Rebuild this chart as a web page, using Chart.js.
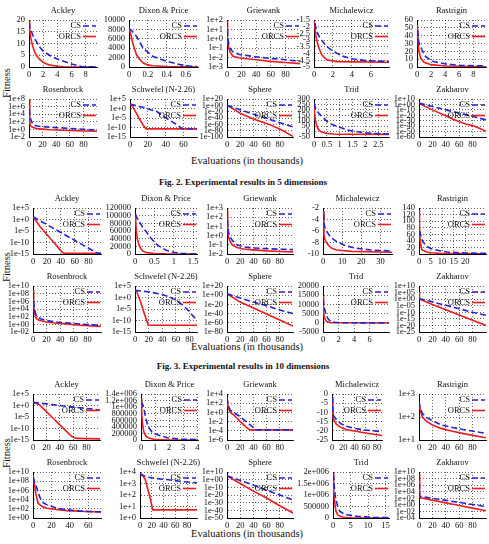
<!DOCTYPE html>
<html>
<head>
<meta charset="utf-8">
<script src="https://cdn.jsdelivr.net/npm/chart.js@4/dist/chart.umd.min.js"></script>
<style>
  html, body { margin: 0; padding: 0; background: #fff; }
  #page { position: relative; width: 489px; height: 544px; overflow: hidden; background: #fff; font-family: "Liberation Serif", serif; }
  #page canvas { position: absolute; }
  .lbl { position: absolute; white-space: nowrap; color: #111; font-family: "Liberation Serif", serif; }
  .cap { font-weight: bold; font-size: 9px; transform: translateX(-50%); }
  .eval { font-size: 10.5px; transform: translateX(-50%); }
  .fit { font-size: 10.5px; transform: translate(-50%, -50%) rotate(-90deg); }
</style>
</head>
<body>
<div id="page">
  <div class="lbl fit" style="left:6px; top:83px;">Fitness</div>
  <div class="lbl fit" style="left:6px; top:267px;">Fitness</div>
  <div class="lbl fit" style="left:6px; top:453px;">Fitness</div>
  <div class="lbl eval" style="left:247px; top:155px;">Evaluations (in thousands)</div>
  <div class="lbl eval" style="left:247px; top:341px;">Evaluations (in thousands)</div>
  <div class="lbl eval" style="left:247px; top:528px;">Evaluations (in thousands)</div>
  <div class="lbl cap" style="left:243px; top:177px;">Fig. 2. Experimental results in 5 dimensions</div>
  <div class="lbl cap" style="left:243px; top:361px;">Fig. 3. Experimental results in 10 dimensions</div>
</div>
<script>
// ================= DATA =================
const seriesNames = ["CS", "ORCS"];

// ---------- 5 dimensions ----------
const ackley5X = [0, 2, 4, 6, 8];
const ackley5Y = ["0", "5", "10", "15", "20"];
const ackley5CS = [[0,19],[0.1,17],[0.3,15.5],[0.6,13],[1,11],[1.5,8.5],[2,6.8],[3,4.8],[4,3.4],[5,2.3],[6,1.3],[7,0.5],[7.4,0.2],[8,0.08],[9.5,0.03]];
const ackley5ORCS = [[0,19.5],[0.1,16],[0.25,12.5],[0.5,9],[0.75,6.8],[1,5.2],[1.5,3.2],[2,2],[2.5,1.3],[3,0.8],[4,0.3],[5,0.1],[6,0.03],[9.5,0]];

const dixon5X = [0, 0.2, 0.4, 0.6];
const dixon5Y = ["0", "2000", "4000", "6000", "8000", "10000"];
const dixon5CS = [[0,8200],[0.03,7700],[0.08,6500],[0.15,4000],[0.25,2300],[0.4,1200],[0.54,500],[0.64,200],[0.72,70]];
const dixon5ORCS = [[0,8300],[0.02,6800],[0.04,5100],[0.06,3700],[0.08,2600],[0.11,1700],[0.15,850],[0.2,450],[0.25,280],[0.4,70],[0.73,0]];

const griewank5X = [0, 20, 40, 60, 80];
const griewank5Y = ["1e-3", "1e-2", "1e-1", "1e+0", "1e+1", "1e+2"];
const griewank5CS = [[0,80],[0.5,10],[1,2],[2,0.4],[4,0.1],[8,0.04],[17,0.021],[40,0.012],[60,0.008],[80,0.006],[100,0.004]];
const griewank5ORCS = [[0,80],[0.5,5],[1,0.8],[2,0.15],[4,0.04],[8,0.015],[17,0.009],[40,0.006],[60,0.004],[80,0.003],[100,0.0023]];

const mich5X = [0, 2, 4, 6];
const mich5Y = ["-5", "-4.5", "-4", "-3.5", "-3", "-2.5", "-2", "-1.5"];
const mich5CS = [[0.1,-1.75],[0.28,-2.36],[0.63,-2.85],[1.33,-3.47],[2.03,-3.84],[3.09,-4.21],[4.14,-4.41],[5.5,-4.53],[7.9,-4.6]];
const mich5ORCS = [[0.03,-1.55],[0.2,-2.73],[0.46,-3.47],[0.8,-4.08],[1.33,-4.46],[2.4,-4.6],[7.9,-4.65]];

const rast5X = [0, 2, 4, 6, 8];
const rast5Y = ["0", "10", "20", "30", "40", "50", "60"];
const rast5CS = [[0.1,47],[0.24,32],[0.7,22],[1.2,13.5],[2.2,7.2],[4.1,3.8],[6.1,2.1],[9.8,1.3]];
const rast5ORCS = [[0.05,53.5],[0.24,22],[0.5,11.4],[1,5.9],[2,3],[4,1.3],[9.8,0.4]];

const rosen5X = [0, 20, 40, 60, 80];
const rosen5Y = ["1e-2", "1e+0", "1e+2", "1e+4", "1e+6", "1e+8"];
const rosen5CS = [[0,6e7],[1,1e4],[2,800],[3,300],[5,40],[8,12],[12,8],[20,5],[40,3],[60,1.8],[80,1.1],[100,0.6]];
const rosen5ORCS = [[0,1e8],[1,100],[2,10],[4,5],[11,1.6],[20,1.2],[31,0.8],[50,0.6],[70,0.45],[100,0.32]];

const schwefel5X = [0, 20, 40, 60];
const schwefel5Y = ["1e-15", "1e-10", "1e-5", "1e+0", "1e+5"];
const schwefel5CS = [[0,200],[15,3],[30,0.025],[41,6e-6],[52,4e-9],[59,1.5e-11],[75,1.5e-11]];
const schwefel5ORCS = [[0,200],[3,10],[6,0.03],[10,1e-5],[15,1e-9],[18,2e-11],[75,2e-11]];

const sphere5X = [0, 20, 40, 60, 80];
const sphere5Y = ["1e-100", "1e-80", "1e-60", "1e-40", "1e-20", "1e+00", "1e+20"];
const sphere5CS = [[0,1],[20,1e-14],[40,1e-28],[60,1e-41],[80,1e-55],[100,1e-68]];
const sphere5ORCS = [[0,1],[10,1e-12],[20,1e-25],[40,1e-43],[60,1e-57],[80,1e-75],[100,1e-98]];

const trid5X = [0, 0.5, 1, 1.5, 2, 2.5];
const trid5Y = ["-50", "0", "50", "100", "150", "200", "250", "300"];
const trid5CS = [[0,260],[0.05,220],[0.1,195],[0.2,165],[0.3,140],[0.5,95],[0.7,65],[1,40],[1.3,15],[1.5,5],[2,-12],[2.5,-20],[2.92,-22]];
const trid5ORCS = [[0,260],[0.02,180],[0.05,110],[0.1,60],[0.15,30],[0.2,12],[0.3,-5],[0.5,-18],[0.75,-23],[1,-25],[2.92,-26]];

const zakh5X = [0, 20, 40, 60, 80];
const zakh5Y = ["1e-60", "1e-50", "1e-40", "1e-30", "1e-20", "1e-10", "1e+00", "1e+10"];
const zakh5CS = [[0,300],[20,1e-4],[40,1e-10],[60,1e-16],[80,1e-22],[100,3e-29]];
const zakh5ORCS = [[0,300],[10,1e-4],[20,1e-10],[40,1e-21],[50,1e-27],[60,1e-32],[70,1e-36],[80,1e-39],[90,1e-44],[100,3e-50]];

// ---------- 10 dimensions ----------
const ackley10X = [0, 20, 40, 60, 80];
const ackley10Y = ["1e-15", "1e-10", "1e-5", "1e+0", "1e+5"];
const ackley10CS = [[0,15],[20,6e-3],[40,2.3e-6],[60,9e-10],[80,3e-13],[93,2e-15],[98,2e-15]];
const ackley10ORCS = [[0,15],[3,1],[10,1e-3],[20,3e-7],[30,1e-10],[40,3e-14],[44,2e-15],[98,2e-15]];

const dixon10X = [0, 0.5, 1, 1.5];
const dixon10Y = ["0", "20000", "40000", "60000", "80000", "100000", "120000"];
const dixon10CS = [[0,103000],[0.05,95000],[0.1,85000],[0.2,70000],[0.3,57000],[0.4,43000],[0.5,31000],[0.6,22000],[0.8,10000],[1,4500],[1.2,2000],[1.4,800],[1.6,300]];
const dixon10ORCS = [[0,105000],[0.02,80000],[0.04,55000],[0.06,40000],[0.1,25000],[0.15,14000],[0.2,8000],[0.3,3500],[0.5,1000],[0.8,200],[1.6,0]];

const griewank10X = [0, 20, 40, 60, 80];
const griewank10Y = ["1e-2", "1e-1", "1e+0", "1e+1", "1e+2", "1e+3"];
const griewank10CS = [[0,500],[1,20],[2,3],[4,0.9],[8,0.3],[15,0.1],[25,0.06],[40,0.045],[60,0.038],[80,0.033],[100,0.03]];
const griewank10ORCS = [[0,500],[1,8],[2,1],[4,0.3],[8,0.1],[15,0.05],[25,0.035],[40,0.028],[60,0.022],[80,0.019],[100,0.017]];

const mich10X = [0, 10, 20, 30];
const mich10Y = ["-10", "-8", "-6", "-4", "-2"];
const mich10CS = [[0.3,-3],[0.5,-4.7],[1,-5.4],[2,-6.1],[4,-7.1],[7,-7.8],[12,-8.6],[17.5,-9.0],[25,-9.3],[36,-9.5]];
const mich10ORCS = [[0.2,-2.5],[0.5,-6.7],[1,-7.5],[2.6,-8.4],[4,-8.9],[7,-9.3],[15,-9.55],[36,-9.7]];

const rast10X = [0, 5, 10, 15, 20];
const rast10Y = ["0", "20", "40", "60", "80", "100", "120", "140"];
const rast10CS = [[0,70],[0.4,68],[1,50],[1.6,38],[3.3,23],[5,17],[7,13],[12,6],[20,3],[29,2]];
const rast10ORCS = [[0,133],[0.2,90],[0.5,38],[1.2,13],[3.3,6],[5,4],[9,2],[15,1.2],[29,0.5]];

const rosen10X = [0, 20, 40, 60, 80];
const rosen10Y = ["1e-02", "1e+00", "1e+02", "1e+04", "1e+06", "1e+08", "1e+10"];
const rosen10CS = [[0,2.5e8],[1,1e6],[2,1.2e4],[4,500],[7,80],[12,25],[20,10],[35,4],[48,2.5],[70,1.2],[100,0.5]];
const rosen10ORCS = [[0,8e8],[1,1e5],[2,1.6e3],[5,30],[10,10],[20,4],[35,2],[48,1.3],[70,0.6],[100,0.3]];

const schwefel10X = [0, 20, 40, 60, 80];
const schwefel10Y = ["1e-15", "1e-10", "1e-5", "1e+0", "1e+5"];
const schwefel10CS = [[0,1200],[22,250],[41,16],[50,2],[61,0.06],[70,5e-4],[76,1.2e-5],[85,1e-8],[91,1.2e-10]];
const schwefel10ORCS = [[0,1200],[2.4,500],[8,2e-2],[14,5e-8],[19.5,8e-13],[91,8e-13]];

const sphere10X = [0, 20, 40, 60, 80];
const sphere10Y = ["1e-80", "1e-60", "1e-40", "1e-20", "1e+00", "1e+20"];
const sphere10CS = [[0,2000],[20,1e-6],[40,1e-15],[60,1e-23],[80,1e-32],[100,1e-40]];
const sphere10ORCS = [[0,2000],[20,1e-15],[40,1e-28],[60,1e-41],[80,1e-54],[100,1e-67]];

const trid10X = [0, 2, 4, 6];
const trid10Y = ["-5000", "0", "5000", "10000", "15000", "20000"];
const trid10CS = [[0,13000],[0.1,10000],[0.2,7500],[0.4,4500],[0.6,2500],[0.8,1500],[1,900],[1.5,300],[2,100],[3,0],[8.5,-100]];
const trid10ORCS = [[0,14500],[0.05,8000],[0.1,5000],[0.2,2500],[0.4,1000],[0.6,400],[1,100],[2,0],[8.5,-100]];

const zakh10X = [0, 20, 40, 60, 80];
const zakh10Y = ["1e-25", "1e-20", "1e-15", "1e-10", "1e-05", "1e+00", "1e+05", "1e+10"];
const zakh10CS = [[0,3],[20,8e-3],[40,2e-5],[60,5e-8],[80,1e-10],[100,6e-13]];
const zakh10ORCS = [[0,3e5],[0.5,100],[1,1],[20,1e-4],[40,1e-8],[60,1e-12],[80,1e-16],[100,1e-20]];

// ---------- third figure (higher dimension) ----------
const ackleyHX = [0, 20, 40, 60, 80];
const ackleyHY = ["1e-15", "1e-10", "1e-5", "1e+0", "1e+5"];
const ackleyHCS = [[0,25],[20,5],[40,1],[60,0.2],[80,0.05],[100,0.011]];
const ackleyHORCS = [[0,20],[9,3],[20,2.3e-3],[30,3e-6],[40,4e-9],[50,6e-12],[58,3e-14],[65,5e-15],[100,3e-15]];

const dixonHX = [0, 1, 2, 3, 4];
const dixonHY = ["0", "200000", "400000", "600000", "800000", "1e+006", "1.2e+006", "1.4e+006"];
const dixonHCS = [[0,1170000],[0.1,1100000],[0.17,1020000],[0.3,750000],[0.4,560000],[0.55,380000],[0.77,250000],[1,190000],[1.4,130000],[1.85,70000],[2.5,40000],[3,25000],[4,10000]];
const dixonHORCS = [[0,1270000],[0.05,800000],[0.12,450000],[0.2,250000],[0.3,150000],[0.4,100000],[0.6,50000],[1.1,10000],[2,2000],[4,0]];

const griewankHX = [0, 20, 40, 60, 80];
const griewankHY = ["1e-6", "1e-4", "1e-2", "1e+0", "1e+2", "1e+4"];
const griewankHCS = [[0,1500],[2,30],[5,3],[10,1],[20,0.12],[30,8e-3],[40,5e-4],[45,1.6e-4],[100,1.6e-4]];
const griewankHORCS = [[0,1500],[2,10],[5,1],[10,0.3],[20,0.01],[30,5e-4],[35,1.6e-4],[100,1.6e-4]];

const michHX = [0, 20, 40, 60, 80];
const michHY = ["-25", "-20", "-15", "-10", "-5", "0"];
const michHCS = [[1,-1.5],[2,-11.4],[8,-14],[15,-16],[25,-17.5],[40,-18.7],[60,-19.6],[89,-20.5]];
const michHORCS = [[1,-1.5],[2,-13.2],[8,-16.5],[15,-18],[25,-19.3],[40,-20.1],[60,-21.2],[89,-22.6]];

const rastHX = [0, 20, 40, 60, 80];
const rastHY = ["1e+1", "1e+2", "1e+3"];
const rastHCS = [[0,470],[2,250],[5,145],[10,100],[20,70],[33,45],[50,35],[70,27],[100,19.5]];
const rastHORCS = [[0,400],[2,200],[5,100],[10,70],[20,45],[33,32],[50,24],[70,18],[100,12.6]];

const rosenHX = [0, 20, 40, 60];
const rosenHY = ["1e+00", "1e+02", "1e+04", "1e+06", "1e+08", "1e+10"];
const rosenHCS = [[0,8e8],[3.7,6e6],[7.3,4e4],[10,3000],[14.7,800],[25,150],[37,60],[50,35],[60,25],[74,22]];
const rosenHORCS = [[0,2e9],[3,2.5e5],[5.5,1600],[10,300],[15,130],[25,70],[37,40],[50,30],[74,20]];

const schwefelHX = [0, 20, 40, 60, 80];
const schwefelHY = ["1e+0", "1e+1", "1e+2", "1e+3", "1e+4"];
const schwefelHCS = [[0,7200],[11,3700],[25,2800],[46,2200],[70,1500],[97,1150]];
const schwefelHORCS = [[0,7200],[5,4500],[8.6,2500],[14,250],[18,37],[21.7,5.1],[97,5.1]];

const sphereHX = [0, 20, 40, 60, 80];
const sphereHY = ["1e-50", "1e-40", "1e-30", "1e-20", "1e-10", "1e+00", "1e+10"];
const sphereHCS = [[0,1e5],[20,1e-1],[40,1e-7],[60,1e-14],[80,1e-20],[100,3e-27]];
const sphereHORCS = [[0,1e5],[20,1e-5],[40,1e-15],[60,1e-24],[80,1e-34],[100,3e-44]];

const tridHX = [0, 5, 10, 15];
const tridHY = ["0", "500000", "1e+006", "1.5e+006", "2e+006"];
const tridHCS = [[0,1900000],[0.2,1790000],[0.4,1300000],[0.66,930000],[1.1,640000],[1.5,420000],[2,290000],[3,190000],[4,140000],[6.8,71000],[11.5,29000],[16,14000]];
const tridHORCS = [[0,1930000],[0.2,1100000],[0.4,790000],[0.85,290000],[1.3,150000],[2,71000],[3,35000],[5,14000],[16,2000]];

const zakhHX = [0, 20, 40, 60, 80];
const zakhHY = ["1e-04", "1e-02", "1e+00", "1e+02", "1e+04", "1e+06", "1e+08", "1e+10"];
const zakhHCS = [[0,2e9],[1,400],[20,95],[40,23],[60,5.5],[80,1.3],[100,0.32]];
const zakhHORCS = [[0,3e9],[1,160],[20,25],[40,4],[60,0.63],[80,0.1],[100,0.016]];

// ================= PANEL TABLE (layout + axis ranges) =================
// plot = [left, top, right, bottom] of the plotting area in page pixels
const panels = [
  // Fig 2 row 1
  {title:"Ackley", plot:[29,20,97,67], xmax:9.6, log:false, x:ackley5X, y:ackley5Y, cs:ackley5CS, orcs:ackley5ORCS},
  {title:"Dixon & Price", plot:[129,20,198,67], xmax:0.73, log:false, x:dixon5X, y:dixon5Y, cs:dixon5CS, orcs:dixon5ORCS},
  {title:"Griewank", plot:[227,20,300,67], xmax:100, log:true, x:griewank5X, y:griewank5Y, cs:griewank5CS, orcs:griewank5ORCS},
  {title:"Michalewicz", plot:[314,20,389,67], xmax:7.9, log:false, x:mich5X, y:mich5Y, cs:mich5CS, orcs:mich5ORCS},
  {title:"Rastrigin", plot:[417,20,486,67], xmax:9.8, log:false, x:rast5X, y:rast5Y, cs:rast5CS, orcs:rast5ORCS},
  // Fig 2 row 2
  {title:"Rosenbrock", plot:[29,99,97,137], xmax:100, log:true, x:rosen5X, y:rosen5Y, cs:rosen5CS, orcs:rosen5ORCS},
  {title:"Schwefel (N-2.26)", plot:[130,99,197,137], xmax:75, log:true, x:schwefel5X, y:schwefel5Y, cs:schwefel5CS, orcs:schwefel5ORCS},
  {title:"Sphere", plot:[227,99,293,137], xmax:100, log:true, x:sphere5X, y:sphere5Y, cs:sphere5CS, orcs:sphere5ORCS},
  {title:"Trid", plot:[314,99,389,137], xmax:2.92, log:false, x:trid5X, y:trid5Y, cs:trid5CS, orcs:trid5ORCS},
  {title:"Zakharov", plot:[419,99,486,137], xmax:100, log:true, x:zakh5X, y:zakh5Y, cs:zakh5CS, orcs:zakh5ORCS},
  // Fig 3 row 1
  {title:"Ackley", plot:[33,208,101,254], xmax:98, log:true, x:ackley10X, y:ackley10Y, cs:ackley10CS, orcs:ackley10ORCS},
  {title:"Dixon & Price", plot:[135,208,197,254], xmax:1.6, log:false, x:dixon10X, y:dixon10Y, cs:dixon10CS, orcs:dixon10ORCS},
  {title:"Griewank", plot:[227,208,293,254], xmax:100, log:true, x:griewank10X, y:griewank10Y, cs:griewank10CS, orcs:griewank10ORCS},
  {title:"Michalewicz", plot:[323,208,392,254], xmax:36, log:false, x:mich10X, y:mich10Y, cs:mich10CS, orcs:mich10ORCS},
  {title:"Rastrigin", plot:[419,208,486,254], xmax:29, log:false, x:rast10X, y:rast10Y, cs:rast10CS, orcs:rast10ORCS},
  // Fig 3 row 2
  {title:"Rosenbrock", plot:[33,286,101,332], xmax:100, log:true, x:rosen10X, y:rosen10Y, cs:rosen10CS, orcs:rosen10ORCS},
  {title:"Schwefel (N-2.26)", plot:[135,286,197,332], xmax:91, log:true, x:schwefel10X, y:schwefel10Y, cs:schwefel10CS, orcs:schwefel10ORCS},
  {title:"Sphere", plot:[227,286,293,332], xmax:100, log:true, x:sphere10X, y:sphere10Y, cs:sphere10CS, orcs:sphere10ORCS},
  {title:"Trid", plot:[323,286,389,332], xmax:8.5, log:false, x:trid10X, y:trid10Y, cs:trid10CS, orcs:trid10ORCS},
  {title:"Zakharov", plot:[419,286,486,332], xmax:100, log:true, x:zakh10X, y:zakh10Y, cs:zakh10CS, orcs:zakh10ORCS},
  // Fig 4 row 1
  {title:"Ackley", plot:[33,394,100,440], xmax:100, log:true, x:ackleyHX, y:ackleyHY, cs:ackleyHCS, orcs:ackleyHORCS},
  {title:"Dixon & Price", plot:[141,394,198,440], xmax:4.05, log:false, x:dixonHX, y:dixonHY, cs:dixonHCS, orcs:dixonHORCS},
  {title:"Griewank", plot:[227,394,293,440], xmax:100, log:true, x:griewankHX, y:griewankHY, cs:griewankHCS, orcs:griewankHORCS},
  {title:"Michalewicz", plot:[332,394,382,440], xmax:89, log:false, x:michHX, y:michHY, cs:michHCS, orcs:michHORCS},
  {title:"Rastrigin", plot:[419,394,486,440], xmax:100, log:true, x:rastHX, y:rastHY, cs:rastHCS, orcs:rastHORCS},
  // Fig 4 row 2
  {title:"Rosenbrock", plot:[33,472,101,518], xmax:74, log:true, x:rosenHX, y:rosenHY, cs:rosenHCS, orcs:rosenHORCS},
  {title:"Schwefel (N-2.26)", plot:[140,472,197,518], xmax:97, log:true, x:schwefelHX, y:schwefelHY, cs:schwefelHCS, orcs:schwefelHORCS},
  {title:"Sphere", plot:[227,472,293,518], xmax:100, log:true, x:sphereHX, y:sphereHY, cs:sphereHCS, orcs:sphereHORCS},
  {title:"Trid", plot:[333,472,389,518], xmax:16, log:false, x:tridHX, y:tridHY, cs:tridHCS, orcs:tridHORCS},
  {title:"Zakharov", plot:[419,472,486,518], xmax:100, log:true, x:zakhHX, y:zakhHY, cs:zakhHCS, orcs:zakhHORCS}
];

// ================= STYLE =================
const FONT = '"Liberation Serif", "Times New Roman", serif';
const BLUE = '#2323d6';
const RED = '#ee1c1c';
const YW = 50, XH = 14, TOPPAD = 16, RIGHTPAD = 8;

const figText = {
  id: 'figText',
  afterDraw(chart, args, opts) {
    const {ctx, chartArea: a} = chart;
    ctx.save();
    ctx.fillStyle = '#111';
    ctx.font = '8.5px ' + FONT;
    ctx.textBaseline = 'middle';
    ctx.textAlign = 'center';
    ctx.fillText(opts.title, (a.left + a.right) / 2, a.top - 9);
    chart.data.datasets.forEach((ds, i) => {
      const y = a.top + 6 + i * 10.5;
      ctx.textAlign = 'right';
      ctx.fillStyle = '#111';
      ctx.fillText(ds.label, a.right - 16, y);
      ctx.beginPath();
      ctx.setLineDash(ds.borderDash || []);
      ctx.strokeStyle = ds.borderColor;
      ctx.lineWidth = ds.borderWidth;
      ctx.moveTo(a.right - 14, y);
      ctx.lineTo(a.right - 1, y);
      ctx.stroke();
    });
    ctx.restore();
  }
};

const page = document.getElementById('page');

panels.forEach(p => {
  const [L, T, R, B] = p.plot;
  const W = YW + (R - L) + RIGHTPAD;
  const H = TOPPAD + (B - T) + XH;
  const cv = document.createElement('canvas');
  cv.width = W; cv.height = H;
  cv.style.left = (L - YW) + 'px';
  cv.style.top = (T - TOPPAD) + 'px';
  cv.style.width = W + 'px'; cv.style.height = H + 'px';
  page.appendChild(cv);

  const yVals = p.y.map(Number);
  const yLabels = p.y;
  const toPts = arr => arr.map(([x, y]) => ({x, y}));
  const gridCommon = {color: 'rgba(0,0,0,0.75)', lineWidth: 0.8, drawTicks: false};
  const borderCommon = {display: true, color: '#000', width: 1, dash: [1, 2]};

  new Chart(cv, {
    type: 'line',
    data: {
      datasets: [
        {label: seriesNames[0], data: toPts(p.cs), borderColor: BLUE, borderWidth: 1.6, borderDash: [6, 3], pointRadius: 0, tension: 0, fill: false},
        {label: seriesNames[1], data: toPts(p.orcs), borderColor: RED, borderWidth: 1.6, pointRadius: 0, tension: 0, fill: false}
      ]
    },
    options: {
      responsive: false,
      animation: false,
      devicePixelRatio: 1,
      parsing: false,
      layout: {padding: {left: 0, right: RIGHTPAD, top: TOPPAD, bottom: 0}},
      plugins: {legend: {display: false}, title: {display: false}, tooltip: {enabled: false}, figText: {title: p.title}},
      scales: {
        x: {
          type: 'linear', min: 0, max: p.xmax,
          afterBuildTicks: s => { s.ticks = p.x.map(v => ({value: v})); },
          afterFit: s => { s.height = XH; },
          ticks: {callback: (v, i) => String(p.x[i]), font: {family: FONT, size: 8.5}, color: '#111', padding: 3, maxRotation: 0, autoSkip: false},
          grid: gridCommon, border: borderCommon
        },
        y: {
          type: p.log ? 'logarithmic' : 'linear',
          min: yVals[0], max: yVals[yVals.length - 1],
          afterBuildTicks: s => { s.ticks = yVals.map(v => ({value: v})); },
          afterFit: s => { s.width = YW; },
          ticks: {callback: (v, i) => yLabels[i], font: {family: FONT, size: 8.5}, color: '#111', padding: 4, autoSkip: false},
          grid: gridCommon, border: borderCommon
        }
      }
    },
    plugins: [figText]
  });
});
</script>
</body>
</html>
